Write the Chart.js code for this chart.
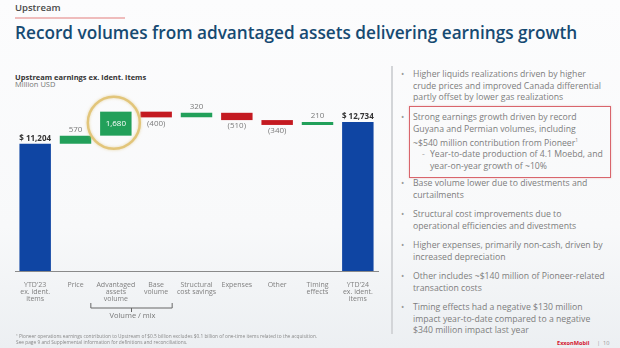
<!DOCTYPE html>
<html>
<head>
<meta charset="utf-8">
<script src="https://cdn.jsdelivr.net/npm/chart.js@4.4.1/dist/chart.umd.min.js"></script>
<style>
  body { margin: 0; }
  #slide {
    position: relative; width: 620px; height: 348px; overflow: hidden;
    font-family: "Open Sans", "Noto Sans", sans-serif;
    background: linear-gradient(to bottom, #fcfcfd 0%, #f8f9fa 65%, #eceff2 100%);
  }
  .abs { position: absolute; white-space: nowrap; }
  .kicker { left: 15px; top: 2px; font-size: 9.5px; line-height: 12px; font-weight: 600; color: #4a4a4a; }
  .kline { left: 15px; top: 17px; width: 110px; height: 1.5px; background: #efbcbc; }
  .title { left: 15px; top: 22.5px; font-size: 17.2px; line-height: 20px; font-weight: 600; color: #164a72; margin: 0; }
  .sub1 { left: 15px; top: 72px; font-size: 7.5px; line-height: 10px; font-weight: 700; color: #333; }
  .sub2 { left: 15px; top: 79px; font-size: 7.5px; line-height: 10px; color: #777; }
  #chartBox { position: absolute; left: 0; top: 90px; width: 385px; height: 258px; }
  .note { left: 16px; top: 333px; font-size: 4.8px; line-height: 6px; color: #888; }
  .vline { left: 391px; top: 66px; width: 1.5px; height: 268px; background: #d3d5d8; }
  .item { left: 413px; font-size: 8.7px; line-height: 11.7px; color: #7d7d7d; }
  .item::before { content: "\2022"; position: absolute; left: -12px; top: 0; color: #999; }
  .subitem { left: 430px; font-size: 8.7px; line-height: 11.7px; color: #7d7d7d; }
  .subitem::before { content: "-"; position: absolute; left: -8px; top: 0; color: #aaa; }
  .redbox { left: 409px; top: 106px; width: 200px; height: 70px; border: 1.5px solid #d9656c; box-shadow: 0 0 2px rgba(200,80,80,0.3); }
  .brand { left: 557px; top: 339px; font-size: 5.6px; line-height: 8px; font-weight: 700; color: #d3122b; }
  .page { left: 597px; top: 339px; font-size: 5.6px; line-height: 8px; color: #999; }
</style>
</head>
<body>
<div id="slide">
  <div class="abs kicker">Upstream</div>
  <div class="abs kline"></div>
  <h1 class="abs title">Record volumes from advantaged assets delivering earnings growth</h1>
  <div class="abs sub1">Upstream earnings ex. ident. items</div>
  <div class="abs sub2">Million USD</div>

  <div id="chartBox"><canvas id="waterfall"></canvas></div>

  <div class="abs note">¹ Pioneer operations earnings contribution to Upstream of $0.5 billion excludes $0.1 billion of one-time items related to the acquisition.<br>See page 9 and Supplemental information for definitions and reconciliations.</div>

  <div class="abs vline"></div>
  <div class="abs redbox"></div>
  <div class="abs item" style="top:69px">Higher liquids realizations driven by higher<br>crude prices and improved Canada differential<br>partly offset by lower gas realizations</div>
  <div class="abs item" style="top:112px">Strong earnings growth driven by record<br>Guyana and Permian volumes, including<br>~$540 million contribution from Pioneer<sup style="font-size:5px">1</sup></div>
  <div class="abs subitem" style="top:149px">Year-to-date production of 4.1 Moebd, and<br>year-on-year growth of ~10%</div>
  <div class="abs item" style="top:178px">Base volume lower due to divestments and<br>curtailments</div>
  <div class="abs item" style="top:209px">Structural cost improvements due to<br>operational efficiencies and divestments</div>
  <div class="abs item" style="top:240px">Higher expenses, primarily non-cash, driven by<br>increased depreciation</div>
  <div class="abs item" style="top:271px">Other includes ~$140 million of Pioneer-related<br>transaction costs</div>
  <div class="abs item" style="top:302px">Timing effects had a negative $130 million<br>impact year-to-date compared to a negative<br>$340 million impact last year</div>

  <div class="abs brand">ExxonMobil</div>
  <div class="abs page">|&nbsp; 10</div>
</div>

<script>
// Waterfall data (million USD)
const categories = [
    ["YTD'23", "ex. ident.", "items"],
    "Price",
    ["Advantaged", "assets", "volume"],
    ["Base", "volume"],
    ["Structural", "cost savings"],
    "Expenses",
    "Other",
    ["Timing", "effects"],
    ["YTD'24", "ex. ident.", "items"]
];
const startTotal = 11204;
const changes = [570, 1680, -400, 320, -510, -340, 210];
const endTotal = 12734;
const valueLabels = ["$ 11,204", "570", "1,680", "(400)", "320", "(510)", "(340)", "210", "$ 12,734"];

const highlightIndex = 2;   // the circled bar
const blue = '#0f45a3';
const green = '#22a05a';
const red = '#c41a21';

// floating bar ranges built from the totals and changes
const ranges = [[0, startTotal]];
const colors = [blue];
let running = startTotal;
changes.forEach(c => {
    ranges.push([running, running + c]);
    colors.push(c >= 0 ? green : red);
    running += c;
});
ranges.push([0, endTotal]);
colors.push(blue);

const waterfallLabels = {
    id: 'waterfallLabels',
    afterDatasetsDraw(chart) {
        const ctx = chart.ctx;
        const meta = chart.getDatasetMeta(0);
        const last = meta.data.length - 1;
        ctx.save();
        ctx.textAlign = 'center';
        ctx.textBaseline = 'middle';
        meta.data.forEach((bar, i) => {
            const top = Math.min(bar.y, bar.base);
            const bottom = Math.max(bar.y, bar.base);
            if (i === 0 || i === last) {
                ctx.font = 'bold 8px "Open Sans"';
                ctx.fillStyle = '#333';
                ctx.fillText(valueLabels[i], bar.x, top - 5.5);
            } else if (i === highlightIndex) {
                ctx.font = '8px "Open Sans"';
                ctx.fillStyle = '#ffffff';
                ctx.fillText(valueLabels[i], bar.x, (top + bottom) / 2);
            } else if (changes[i - 1] >= 0) {
                ctx.font = '8px "Open Sans"';
                ctx.fillStyle = '#7a7a7a';
                ctx.fillText(valueLabels[i], bar.x, top - 6);
            } else {
                ctx.font = '8px "Open Sans"';
                ctx.fillStyle = '#7a7a7a';
                ctx.fillText(valueLabels[i], bar.x, bottom + 6);
            }
        });

        // highlight ring round the advantaged assets bar
        const hb = meta.data[highlightIndex];
        const cy = (hb.y + hb.base) / 2 - 1;
        ctx.beginPath();
        ctx.arc(hb.x - 2, cy, 26, 0, Math.PI * 2);
        ctx.strokeStyle = '#e2c57a';
        ctx.lineWidth = 2.5;
        ctx.shadowColor = 'rgba(220,190,110,0.6)';
        ctx.shadowBlur = 3;
        ctx.stroke();
        ctx.shadowBlur = 0;

        // "Volume / mix" bracket under two categories
        const b1 = meta.data[2], b2 = meta.data[3];
        const base = chart.chartArea.bottom;
        const x1 = b1.x - 25, x2 = b2.x + 16, xm = (x1 + x2) / 2;
        ctx.beginPath();
        ctx.moveTo(x1, base + 32);
        ctx.lineTo(x1, base + 37);
        ctx.lineTo(x2, base + 37);
        ctx.lineTo(x2, base + 32);
        ctx.moveTo(xm, base + 37);
        ctx.lineTo(xm, base + 41);
        ctx.strokeStyle = '#666';
        ctx.lineWidth = 1;
        ctx.stroke();
        ctx.font = '7.5px "Open Sans"';
        ctx.fillStyle = '#777';
        ctx.fillText('Volume / mix', xm + 1, base + 45);
        ctx.restore();
    }
};

new Chart(document.getElementById('waterfall'), {
    type: 'bar',
    data: {
        labels: categories,
        datasets: [{
            data: ranges,
            backgroundColor: colors,
            borderWidth: 0,
            barPercentage: 0.78,
            categoryPercentage: 1
        }]
    },
    options: {
        responsive: true,
        maintainAspectRatio: false,
        animation: false,
        devicePixelRatio: 1,
        layout: { padding: { left: 15, right: 7, top: 0, bottom: 0 } },
        plugins: {
            legend: { display: false },
            tooltip: { enabled: false }
        },
        scales: {
            x: {
                grid: { display: false },
                border: { display: true, color: '#8a8a8a', width: 1 },
                ticks: {
                    color: '#808080',
                    font: { family: 'Open Sans', size: 7, lineHeight: 0.95 },
                    padding: 3,
                    autoSkip: false,
                    maxRotation: 0,
                    minRotation: 0
                },
                afterFit(axis) { axis.height = 77; }
            },
            y: {
                display: false,
                min: 2300,
                max: 14970
            }
        }
    },
    plugins: [waterfallLabels]
});
</script>
</body>
</html>
